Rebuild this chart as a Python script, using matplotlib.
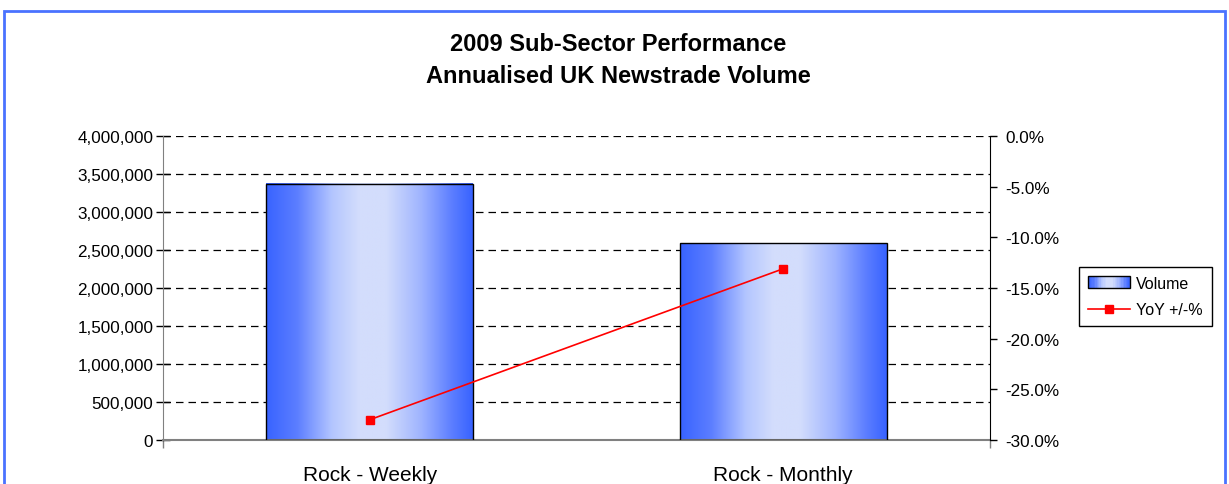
import numpy as np
import matplotlib
matplotlib.use("Agg")
import matplotlib.pyplot as plt
from matplotlib.colors import LinearSegmentedColormap
from matplotlib.patches import Rectangle, Patch
from matplotlib.lines import Line2D
from matplotlib.legend_handler import HandlerBase
from matplotlib.ticker import FuncFormatter, MultipleLocator

plt.rcParams['font.family'] = ['Liberation Sans', 'DejaVu Sans']

# data
categories = ['Rock - Weekly', 'Rock - Monthly']
volume = [3370000, 2590000]
yoy_pct = [-28.0, -13.1]

title = '2009 Sub-Sector Performance\nAnnualised UK Newstrade Volume'

# gradient: dark blue at edges, pale in middle
grad = LinearSegmentedColormap.from_list(
    'bargrad', [(0.0, '#3863ff'), (0.15, '#5c7eff'), (0.32, '#b4c6ff'),
                (0.45, '#d3ddfc'), (0.58, '#d3ddfc'), (0.75, '#9fb4ff'),
                (0.9, '#5c7eff'), (1.0, '#3863ff')])


class GradientHandler(HandlerBase):
    def create_artists(self, legend, orig, xd, yd, width, height, fontsize, trans):
        arts = []
        n = 30
        for i in range(n):
            r = Rectangle((xd + width * i / n, yd), width / n + 0.3, height,
                          facecolor=grad((i + 0.5) / n), edgecolor='none',
                          transform=trans)
            arts.append(r)
        arts.append(Rectangle((xd, yd), width, height, facecolor='none',
                              edgecolor='black', lw=1.0, transform=trans))
        return arts


fig = plt.figure(figsize=(12.29, 4.85), dpi=100)
ax = fig.add_axes([163 / 1229, 1 - 441 / 485, 827 / 1229, 304 / 485])

x = np.arange(len(categories))
bw = 0.5
g = np.linspace(0, 1, 256).reshape(1, -1)
for xi, v in zip(x, volume):
    ax.imshow(g, cmap=grad, extent=[xi - bw / 2, xi + bw / 2, 0, v],
              aspect='auto', zorder=2, interpolation='bilinear')
    ax.add_patch(Rectangle((xi - bw / 2, 0), bw, v, facecolor='none',
                           edgecolor='black', lw=1.0, zorder=3))

ax.set_xlim(-0.5, 1.5)
ax.set_ylim(0, 4000000)
ax.yaxis.set_major_locator(MultipleLocator(500000))
ax.yaxis.set_major_formatter(FuncFormatter(lambda v, p: f'{int(v):,}'))
ax.set_xticks(x)
ax.set_xticklabels(categories, fontsize=15)
ax.set_xticks([-0.5, 1.5], minor=True)
ax.tick_params(axis='x', which='major', length=0, pad=18)
ax.tick_params(axis='x', which='minor', length=6, width=1, color='#808080')
ax.tick_params(axis='y', labelsize=12.3, length=10, width=1, color='black',
               direction='inout', pad=2)
ax.grid(axis='y', color='black', linestyle=(0, (6, 4)), lw=0.9)
ax.set_axisbelow(True)
ax.spines['top'].set_visible(False)
ax.spines['right'].set_visible(False)
ax.spines['left'].set_color('#808080')
ax.spines['bottom'].set_color('#808080')
ax.spines['bottom'].set_linewidth(1.5)

ax2 = ax.twinx()
ax2.plot(x, yoy_pct, color='#ff0000', lw=1.2, marker='s', markersize=6,
         markeredgecolor='#ff0000', zorder=5)
ax2.set_ylim(-30, 0)
ax2.yaxis.set_major_locator(MultipleLocator(5))
ax2.yaxis.set_major_formatter(FuncFormatter(lambda v, p: f'{v:.1f}%'))
ax2.tick_params(axis='y', labelsize=12.3, length=5, width=1, color='black', pad=6)
for s in ['top', 'left', 'bottom']:
    ax2.spines[s].set_visible(False)
ax2.spines['right'].set_color('black')

fig.text(618 / 1229, 1 - 60.5 / 485, title, ha='center', va='center',
         fontsize=17, fontweight='bold', linespacing=1.5)

handles = [Patch(label='Volume'),
           Line2D([], [], color='#ff0000', lw=1.2, marker='s', markersize=6,
                  label='YoY +/-%')]
leg = fig.legend(handles=handles, loc='center',
                 bbox_to_anchor=(1145.5 / 1229, 1 - 297.5 / 485),
                 handler_map={Patch: GradientHandler()},
                 fontsize=11.5, frameon=True, fancybox=False, framealpha=1,
                 edgecolor='black', handlelength=2.6, handletextpad=0.4,
                 borderpad=0.55, labelspacing=0.75)
leg.get_frame().set_linewidth(1.0)

fig.patches.append(Rectangle((4 / 1229, -0.1), 1221 / 1229, 1.1 - 11.5 / 485,
                             transform=fig.transFigure, fill=False,
                             edgecolor='#4a72ff', lw=2, figure=fig))

fig.savefig('out.png', dpi=100)
